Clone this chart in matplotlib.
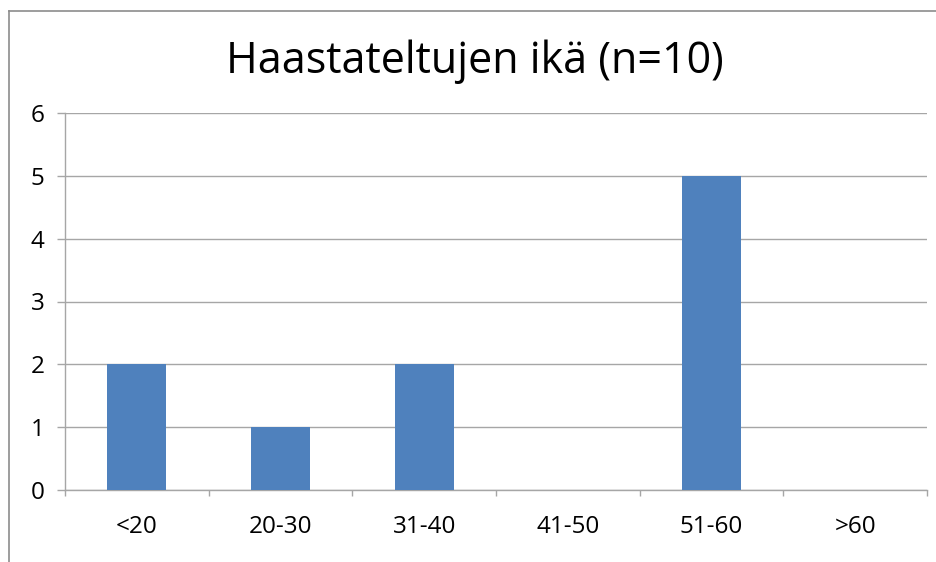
import matplotlib.pyplot as plt
from matplotlib.lines import Line2D

categories = ['<20', '20-30', '31-40', '41-50', '51-60', '>60']
values = [2, 1, 2, 0, 5, 0]
title = 'Haastateltujen ikä (n=10)'

W, H = 936, 562
fig = plt.figure(figsize=(W / 100, H / 100), dpi=100)
plt.rcParams['font.family'] = ['Open Sans', 'DejaVu Sans']

# plot area in pixels
left, right, top, bottom = 65, 927, 113, 490
ax = fig.add_axes([left / W, 1 - bottom / H, (right - left) / W, (bottom - top) / H])

grid_col = '#a6a6a6'
x = range(len(categories))
ax.bar(x, values, width=0.41, color='#4f81bd', zorder=3)

ax.set_xlim(-0.5, len(categories) - 0.5)
ax.set_ylim(0, 6)
ax.set_yticks(range(0, 7))
ax.yaxis.grid(True, color=grid_col, linewidth=1)
ax.set_axisbelow(True)

# boundary ticks between categories, labels centred on the bars
ax.set_xticks([i - 0.5 for i in range(len(categories) + 1)], minor=False)
ax.set_xticklabels([])
ax.set_xticks(list(x), minor=True)
ax.set_xticklabels(categories, minor=True)
ax.tick_params(axis='x', which='major', length=4.5, color=grid_col, width=1, direction='out')
ax.tick_params(axis='x', which='minor', length=0, pad=18, labelsize=17.5)
ax.tick_params(axis='y', length=5.8, color=grid_col, width=1, labelsize=17.5, pad=9)

for s in ['top', 'right']:
    ax.spines[s].set_visible(False)
for s in ['left', 'bottom']:
    ax.spines[s].set_color(grid_col)
    ax.spines[s].set_linewidth(1)

fig.text(475 / W, 1 - 62 / H, title, ha='center', va='center', fontsize=31)

# outer chart border (left and top edges visible)
fig.add_artist(Line2D([9 / W, 9 / W], [0, 1 - 11 / H], transform=fig.transFigure, color='#8c8c8c', lw=1.2))
fig.add_artist(Line2D([9 / W, 1], [1 - 11 / H, 1 - 11 / H], transform=fig.transFigure, color='#8c8c8c', lw=1.2))

fig.savefig('out.png', dpi=100)
